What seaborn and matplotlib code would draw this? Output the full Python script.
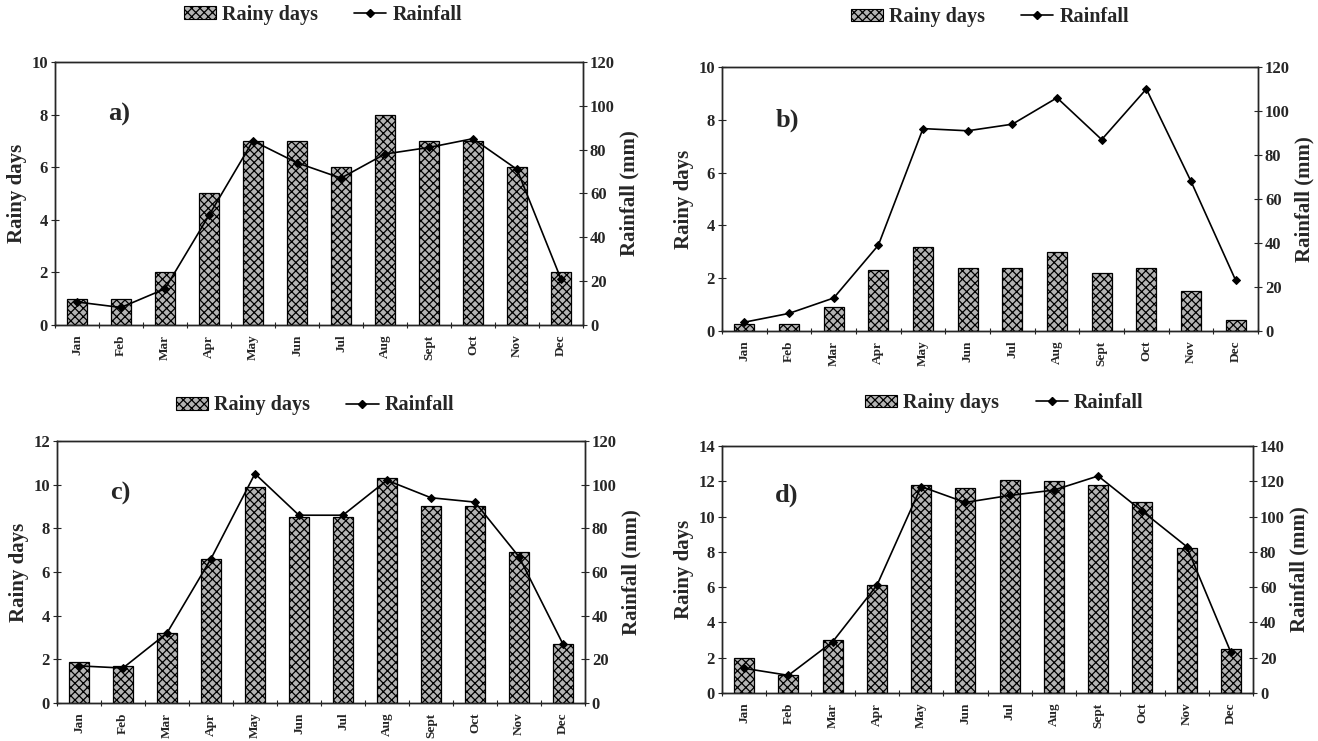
import numpy as np
import pandas as pd
import matplotlib
matplotlib.use("Agg")
import matplotlib.pyplot as plt
import seaborn as sns
from matplotlib.patches import Patch
from matplotlib.lines import Line2D
from matplotlib.ticker import FixedLocator, MultipleLocator

months = ["Jan", "Feb", "Mar", "Apr", "May", "Jun", "Jul", "Aug", "Sept", "Oct", "Nov", "Dec"]

days_a = [1, 1, 2, 5, 7, 7, 6, 8, 7, 7, 6, 2]
rain_a = [10.5, 8, 16.5, 50, 84, 74, 67, 78, 81, 85, 71, 21]

days_b = [0.25, 0.25, 0.9, 2.3, 3.2, 2.4, 2.4, 3.0, 2.2, 2.4, 1.5, 0.4]
rain_b = [4, 8, 15, 39, 92, 91, 94, 106, 87, 110, 68, 23]

days_c = [1.9, 1.7, 3.2, 6.6, 9.9, 8.5, 8.5, 10.3, 9.0, 9.0, 6.9, 2.7]
rain_c = [17, 16, 32, 66, 105, 86, 86, 102, 94, 92, 67, 27]

days_d = [2.0, 1.0, 3.0, 6.1, 11.8, 11.6, 12.1, 12.0, 11.8, 10.8, 8.2, 2.5]
rain_d = [14, 10, 29, 61, 117, 108, 112, 115, 123, 103, 83, 23]

panels = [
    ("a)", days_a, rain_a, 10, 2, 120, 20, [0.0417, 0.5614, 0.4006, 0.355], (0.245, 0.980)),
    ("b)", days_b, rain_b, 10, 2, 120, 20, [0.5478, 0.5533, 0.4067, 0.3563], (0.751, 0.977)),
    ("c)", days_c, rain_c, 12, 2, 120, 20, [0.0432, 0.0513, 0.4006, 0.3536], (0.239, 0.453)),
    ("d)", days_d, rain_d, 14, 2, 140, 20, [0.5478, 0.0648, 0.4029, 0.3333], (0.762, 0.456)),
]

sns.set_style("white")
plt.rcParams["font.family"] = ["Liberation Serif", "DejaVu Serif"]
plt.rcParams["font.weight"] = "bold"
plt.rcParams["hatch.linewidth"] = 0.9
plt.rcParams["axes.linewidth"] = 1.0

fig = plt.figure(figsize=(13.18, 7.41), dpi=100)

bar_face = "#b4b4b4"
hatch = "xxxx"
tick_fs = 12
label_fs = 15

for letter, days, rain, dmax, dstep, rmax, rstep, pos, legpos in panels:
    ax = fig.add_axes(pos)
    df = pd.DataFrame({"month": months, "days": days})
    sns.barplot(data=df, x="month", y="days", ax=ax, color=bar_face,
                width=0.45, edgecolor="black", linewidth=0.9, hatch=hatch,
                saturation=1)
    ax.set_ylim(0, dmax)
    ax.set_xlim(-0.5, 11.5)
    ax.yaxis.set_major_locator(MultipleLocator(dstep))
    ax.set_xlabel("")
    ax.set_ylabel("Rainy days", fontsize=label_fs, fontweight="bold", labelpad=3)
    ax.set_xticks(np.arange(len(months)))
    ax.set_xticklabels(months, rotation=90, fontsize=9.5, fontweight="bold")
    ax.xaxis.set_minor_locator(FixedLocator(np.arange(len(months) + 1) - 0.5))
    ax.tick_params(axis="x", which="major", length=0, pad=7)
    ax.tick_params(axis="x", which="minor", length=5, width=0.8, direction="inout", bottom=True)
    ax.tick_params(axis="y", which="major", length=6, width=0.8, direction="inout", left=True,
                   labelsize=tick_fs, pad=2)
    for lab in ax.get_yticklabels():
        lab.set_fontweight("bold")
    for s in ax.spines.values():
        s.set_visible(True)
        s.set_color("black")

    ax2 = ax.twinx()
    sns.lineplot(x=np.arange(len(months)), y=rain, ax=ax2, color="black",
                 linewidth=1.2, marker="D", markersize=4, markeredgecolor="black",
                 markerfacecolor="black", sort=False)
    ax2.set_ylim(0, rmax)
    ax2.yaxis.set_major_locator(MultipleLocator(rstep))
    ax2.set_ylabel("Rainfall (mm)", fontsize=label_fs, fontweight="bold", labelpad=3)
    ax2.tick_params(axis="y", which="major", length=6, width=0.8, direction="inout", right=True,
                    labelsize=tick_fs, pad=2)
    for lab in ax2.get_yticklabels():
        lab.set_fontweight("bold")

    ax.text(0.1, 0.8, letter, transform=ax.transAxes, fontsize=19, fontweight="bold",
            ha="left", va="center")

    handles = [
        Patch(facecolor=bar_face, edgecolor="black", hatch=hatch, linewidth=0.8),
        Line2D([0], [0], color="black", linewidth=1.2, marker="D", markersize=4),
    ]
    fig.legend(handles, ["Rainy days", "Rainfall"], loc="center", bbox_to_anchor=legpos,
               ncol=2, frameon=False, prop={"size": 14.5, "weight": "bold"},
               handlelength=1.6, handleheight=0.6, handletextpad=0.3, columnspacing=1.8)

fig.savefig("out.png", dpi=100)
